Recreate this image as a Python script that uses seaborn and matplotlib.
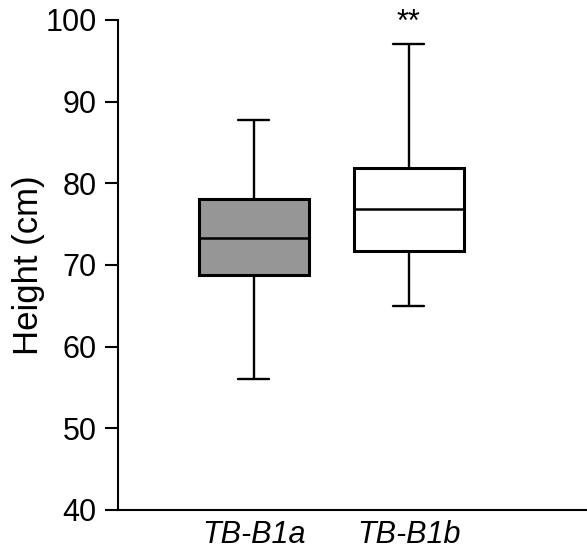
import numpy as np
import pandas as pd
import matplotlib
matplotlib.use("Agg")
import matplotlib.pyplot as plt
import seaborn as sns

# --- DATA (five-number summaries) ---
groups = ["TB-B1a", "TB-B1b"]
tb_b1a = [56.0, 68.8, 73.3, 78.1, 87.7]   # min, Q1, median, Q3, max
tb_b1b = [65.0, 71.7, 76.8, 81.9, 97.0]
box_colors = ["#969696", "#ffffff"]
y_ticks = [40, 50, 60, 70, 80, 90, 100]
signif = "**"

df = pd.DataFrame({
    "group": [groups[0]] * len(tb_b1a) + [groups[1]] * len(tb_b1b),
    "height": tb_b1a + tb_b1b,
})

sns.set_style("ticks")
plt.rcParams["font.family"] = ["Liberation Sans", "DejaVu Sans"]
plt.rcParams["text.color"] = "black"
plt.rcParams["xtick.color"] = "black"
plt.rcParams["ytick.color"] = "black"
plt.rcParams["axes.labelcolor"] = "black"

fig = plt.figure(figsize=(5.87, 5.53), dpi=100)
ax = fig.add_axes([0.201, 0.078, 0.799, 0.886])

sns.boxplot(data=df, x="group", y="height", hue="group", order=groups,
            palette=dict(zip(groups, box_colors)), legend=False,
            whis=(0, 100), width=0.71, linecolor="black", linewidth=1.7,
            capwidths=0.2, showfliers=False, ax=ax,
            boxprops=dict(linewidth=2.2), medianprops=dict(linewidth=1.8))

ax.text(1, 99.6, signif, ha="center", va="center", fontsize=22)

ax.set_ylim(40, 100)
ax.set_xlim(-0.877, 2.15)
ax.set_yticks(y_ticks)
ax.set_xlabel("")
ax.set_ylabel("Height (cm)", fontsize=25, labelpad=0)
ax.tick_params(axis="y", labelsize=22, length=9.5, width=1.5, pad=6)
ax.tick_params(axis="x", length=0, labelsize=22, pad=7)
for lab in ax.get_xticklabels():
    lab.set_style("italic")
for side in ["left", "bottom"]:
    ax.spines[side].set_linewidth(1.5)
    ax.spines[side].set_color("black")
sns.despine(ax=ax)
ax.set_clip_on(False)

fig.savefig("out.png", dpi=100)
